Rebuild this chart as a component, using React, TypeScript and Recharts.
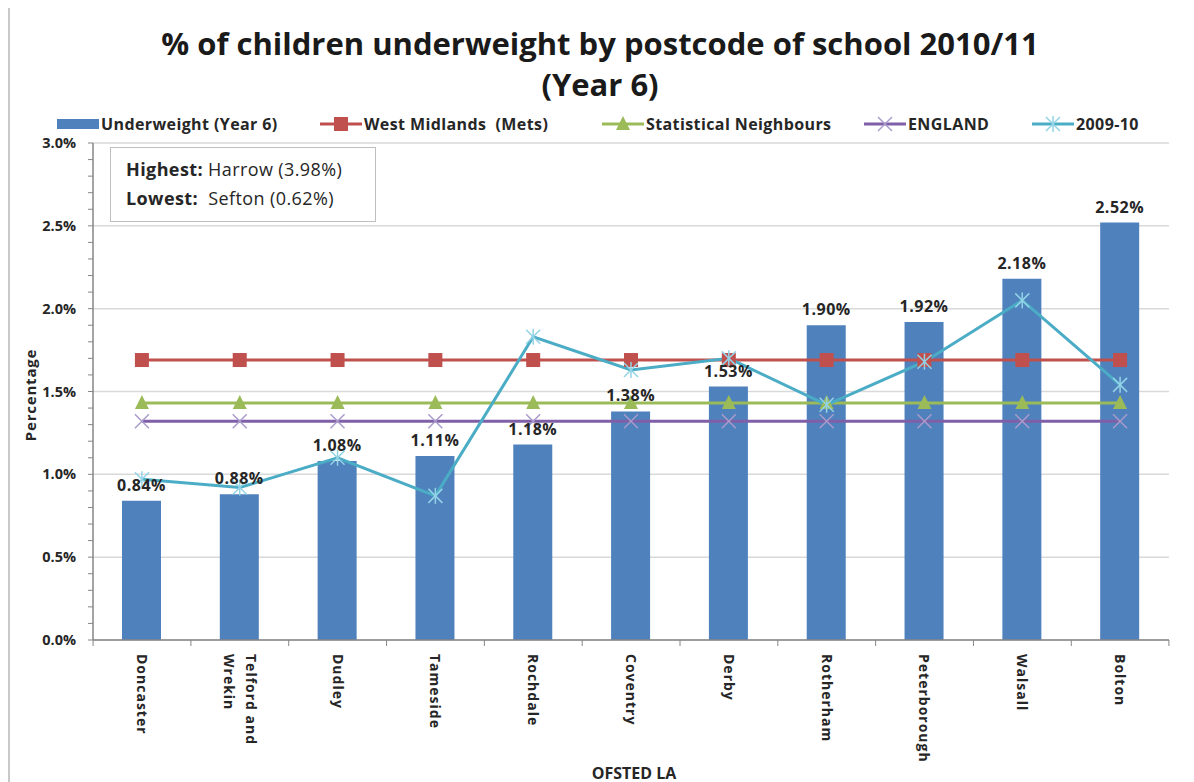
import React from 'react';
import { Bar, CartesianGrid, ComposedChart, LabelList, Line, XAxis, YAxis } from 'recharts';

const categories = [
  'Doncaster',
  'Telford and Wrekin',
  'Dudley',
  'Tameside',
  'Rochdale',
  'Coventry',
  'Derby',
  'Rotherham',
  'Peterborough',
  'Walsall',
  'Bolton',
];
const underweight = [0.84, 0.88, 1.08, 1.11, 1.18, 1.38, 1.53, 1.9, 1.92, 2.18, 2.52];
const westMidlands = [1.69, 1.69, 1.69, 1.69, 1.69, 1.69, 1.69, 1.69, 1.69, 1.69, 1.69];
const statNeighbours = [1.43, 1.43, 1.43, 1.43, 1.43, 1.43, 1.43, 1.43, 1.43, 1.43, 1.43];
const england = [1.32, 1.32, 1.32, 1.32, 1.32, 1.32, 1.32, 1.32, 1.32, 1.32, 1.32];
const prevYear = [0.97, 0.92, 1.1, 0.87, 1.83, 1.63, 1.7, 1.42, 1.68, 2.05, 1.54];

const yMajorTicks = [0, 0.5, 1, 1.5, 2, 2.5, 3];
const yMinorTicks = Array.from({ length: 31 }, (_, i) => i / 10);

const COLORS = {
  bar: '#4F81BD',
  wm: '#C0504D',
  sn: '#9BBB59',
  eng: '#7F5FA8',
  engMarker: '#A99BCB',
  prev: '#4BACC6',
  prevMarker: '#93D3E6',
  axis: '#868686',
  grid: '#D9D9D9',
  text: '#262626',
};

const FONT = '"Open Sans", Lato, sans-serif';

const data = categories.map((name, i) => ({
  name,
  underweight: underweight[i],
  westMidlands: westMidlands[i],
  statNeighbours: statNeighbours[i],
  england: england[i],
  prevYear: prevYear[i],
}));

const legendItems = [
  { label: 'Underweight (Year 6)', kind: 'bar', color: COLORS.bar, left: 47 },
  { label: 'West Midlands  (Mets)', kind: 'square', color: COLORS.wm, left: 310 },
  { label: 'Statistical Neighbours', kind: 'triangle', color: COLORS.sn, left: 592 },
  { label: 'ENGLAND', kind: 'cross', color: COLORS.eng, left: 854 },
  { label: '2009-10', kind: 'star', color: COLORS.prev, left: 1022 },
];

function SquareDot({ cx, cy }: { cx?: number; cy?: number }) {
  if (cx == null || cy == null) return null;
  return <rect x={cx - 7} y={cy - 7} width={14} height={14} fill={COLORS.wm} />;
}

function TriangleDot({ cx, cy }: { cx?: number; cy?: number }) {
  if (cx == null || cy == null) return null;
  return <polygon points={`${cx},${cy - 8} ${cx + 7},${cy + 6} ${cx - 7},${cy + 6}`} fill={COLORS.sn} />;
}

function CrossDot({ cx, cy }: { cx?: number; cy?: number }) {
  if (cx == null || cy == null) return null;
  return (
    <g stroke={COLORS.engMarker} strokeWidth={1.5}>
      <line x1={cx - 7} y1={cy - 7} x2={cx + 7} y2={cy + 7} />
      <line x1={cx - 7} y1={cy + 7} x2={cx + 7} y2={cy - 7} />
    </g>
  );
}

function StarDot({ cx, cy }: { cx?: number; cy?: number }) {
  if (cx == null || cy == null) return null;
  return (
    <g stroke={COLORS.prevMarker} strokeWidth={1.5}>
      <line x1={cx - 7} y1={cy - 7} x2={cx + 7} y2={cy + 7} />
      <line x1={cx - 7} y1={cy + 7} x2={cx + 7} y2={cy - 7} />
      <line x1={cx} y1={cy - 8} x2={cx} y2={cy + 8} />
    </g>
  );
}

function LegendMarker({ kind, color }: { kind: string; color: string }) {
  if (kind === 'bar') {
    return (
      <svg width={42} height={14}>
        <rect x={0} y={2} width={42} height={10} fill={color} />
      </svg>
    );
  }
  return (
    <svg width={42} height={16}>
      <line x1={0} y1={8} x2={42} y2={8} stroke={color} strokeWidth={3} />
      {kind === 'square' && <SquareDot cx={21} cy={8} />}
      {kind === 'triangle' && <TriangleDot cx={21} cy={8} />}
      {kind === 'cross' && <CrossDot cx={21} cy={8} />}
      {kind === 'star' && <StarDot cx={21} cy={8} />}
    </svg>
  );
}

const BAND_HALF = 1074 / 11 / 2;

function CategoryTick(props: any) {
  const { x, y, payload, index } = props;
  const words = String(payload.value).split(' ');
  const lines = words.length > 2 ? [words.slice(0, -1).join(' '), words[words.length - 1]] : [payload.value];
  const lh = 22;
  const axisY = y - 8;
  return (
    <g>
      <line x1={x - BAND_HALF} y1={axisY} x2={x - BAND_HALF} y2={axisY + 6} stroke={COLORS.axis} />
      {index === categories.length - 1 && (
        <line x1={x + BAND_HALF} y1={axisY} x2={x + BAND_HALF} y2={axisY + 6} stroke={COLORS.axis} />
      )}
      <g transform={`translate(${x},${axisY + 14}) rotate(90)`}>
        {lines.map((line: string, i: number) => {
          const off = ((lines.length - 1) / 2) * lh - i * lh;
          return (
            <text
              key={line}
              x={0}
              y={-off + 5}
              textAnchor='start'
              fontSize={14}
              fontWeight={700}
              letterSpacing={1}
              fill={COLORS.text}
              fontFamily={FONT}
            >
              {line}
            </text>
          );
        })}
      </g>
    </g>
  );
}

export default function App() {
  return (
    <div
      style={{
        position: 'relative',
        width: 1186,
        height: 774,
        fontFamily: FONT,
        borderLeft: '2px solid #c8c8c8',
        boxSizing: 'border-box',
        background: '#fff',
      }}
    >
      <div
        style={{
          position: 'absolute',
          left: 0,
          top: 15,
          width: 1180,
          textAlign: 'center',
          fontSize: 31,
          fontWeight: 700,
          lineHeight: '41px',
          color: '#1a1a1a',
        }}
      >
        % of children underweight by postcode of school 2010/11
        <br />
        (Year 6)
      </div>

      {legendItems.map((item) => (
        <div
          key={item.label}
          style={{
            position: 'absolute',
            left: item.left,
            top: 105,
            display: 'flex',
            alignItems: 'center',
            fontSize: 16,
            fontWeight: 700,
            letterSpacing: 0.4,
            color: COLORS.text,
            whiteSpace: 'pre',
          }}
        >
          <LegendMarker kind={item.kind} color={item.color} />
          <span style={{ marginLeft: 2 }}>{item.label}</span>
        </div>
      ))}

      <ComposedChart
        width={1184}
        height={774}
        data={data}
        margin={{ top: 135, right: 25, left: 0, bottom: 0 }}
        barSize={39}
        style={{ fontFamily: FONT }}
      >
        <CartesianGrid vertical={false} stroke={COLORS.grid} strokeWidth={1.5} horizontalValues={yMajorTicks} />
        <XAxis
          dataKey='name'
          height={142}
          interval={0}
          axisLine={{ stroke: COLORS.axis, strokeWidth: 1.5 }}
          tickLine={false}
          tick={<CategoryTick />}
        />
        <YAxis
          type='number'
          domain={[0, 3]}
          ticks={yMinorTicks}
          interval={0}
          width={83}
          tickSize={5}
          tickMargin={12}
          axisLine={{ stroke: COLORS.axis, strokeWidth: 1.5 }}
          tickLine={{ stroke: COLORS.axis }}
          tickFormatter={(v: number) => (Math.round(v * 10) % 5 === 0 ? `${v.toFixed(1)}%` : '')}
          tick={{ fontSize: 14.5, fontWeight: 700, fill: COLORS.text, fontFamily: FONT }}
        />
        <Bar dataKey='underweight' name='Underweight (Year 6)' fill={COLORS.bar} isAnimationActive={false}>
          <LabelList
            dataKey='underweight'
            position='top'
            offset={10}
            formatter={(v: any) => `${Number(v).toFixed(2)}%`}
            style={{ fontSize: 16, fontWeight: 700, fill: COLORS.text, fontFamily: FONT, letterSpacing: 0.5 }}
          />
        </Bar>
        <Line
          dataKey='westMidlands'
          name='West Midlands (Mets)'
          stroke={COLORS.wm}
          strokeWidth={3}
          dot={<SquareDot />}
          activeDot={false}
          isAnimationActive={false}
        />
        <Line
          dataKey='statNeighbours'
          name='Statistical Neighbours'
          stroke={COLORS.sn}
          strokeWidth={3}
          dot={<TriangleDot />}
          activeDot={false}
          isAnimationActive={false}
        />
        <Line
          dataKey='england'
          name='ENGLAND'
          stroke={COLORS.eng}
          strokeWidth={3}
          dot={<CrossDot />}
          activeDot={false}
          isAnimationActive={false}
        />
        <Line
          dataKey='prevYear'
          name='2009-10'
          stroke={COLORS.prev}
          strokeWidth={3}
          dot={<StarDot />}
          activeDot={false}
          isAnimationActive={false}
        />
      </ComposedChart>

      <div
        style={{
          position: 'absolute',
          left: 100,
          top: 139,
          width: 266,
          height: 75,
          boxSizing: 'border-box',
          border: '1.5px solid #bfbfbf',
          background: '#fff',
          padding: '7px 0 0 15px',
          fontSize: 18,
          letterSpacing: 0.4,
          lineHeight: '29px',
          color: COLORS.text,
        }}
      >
        <div>
          <b>Highest:</b> Harrow (3.98%)
        </div>
        <div>
          <b>Lowest:</b>&nbsp; Sefton (0.62%)
        </div>
      </div>

      <div
        style={{
          position: 'absolute',
          left: 20,
          top: 387,
          transform: 'translate(-50%, -50%) rotate(-90deg)',
          fontSize: 15,
          fontWeight: 700,
          letterSpacing: 0.8,
          color: COLORS.text,
        }}
      >
        Percentage
      </div>

      <div
        style={{
          position: 'absolute',
          left: 624,
          top: 765,
          transform: 'translate(-50%, -50%)',
          fontSize: 16,
          fontWeight: 700,
          color: COLORS.text,
        }}
      >
        OFSTED LA
      </div>
    </div>
  );
}
